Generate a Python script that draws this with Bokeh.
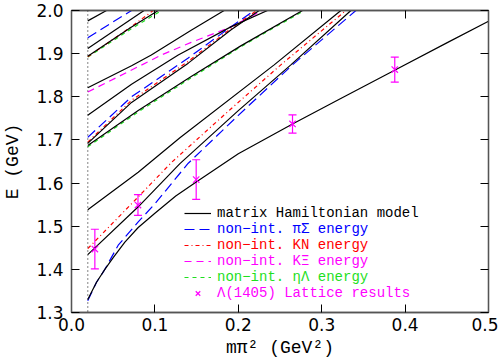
from bokeh.plotting import figure
from bokeh.models import (Span, Whisker, TeeHead, ColumnDataSource, Legend, LegendItem,
                          LinearAxis, FixedTicker, NumeralTickFormatter, Range1d)
from bokeh.embed import file_html
from bokeh.resources import INLINE

# ---------------- data ----------------
phys_point = 0.0195

x_ticks = [0.0, 0.1, 0.2, 0.3, 0.4, 0.5]
y_ticks = [1.3, 1.4, 1.5, 1.6, 1.7, 1.8, 1.9, 2.0]

# matrix Hamiltonian model eigen-energies (black)
h1_x = [0.0195, 0.03, 0.04, 0.05, 0.064, 0.08, 0.10, 0.125, 0.15, 0.20, 0.265, 0.32, 0.388, 0.45, 0.50]
h1_E = [1.330, 1.370, 1.400, 1.427, 1.463, 1.497, 1.530, 1.570, 1.603, 1.668, 1.737, 1.793, 1.862, 1.925, 1.975]
h2_x = [0.0195, 0.08, 0.13, 0.20, 0.263, 0.335]
h2_E = [1.434, 1.545, 1.645, 1.768, 1.874, 2.0]
h3_x = [0.0195, 0.08, 0.13, 0.243, 0.323]
h3_E = [1.538, 1.625, 1.705, 1.874, 2.0]
h4_x = [0.0195, 0.08, 0.1435, 0.203, 0.277]
h4_E = [1.687, 1.768, 1.847, 1.918, 2.0]
h5_x = [0.0195, 0.072, 0.14, 0.191, 0.225]
h5_E = [1.692, 1.787, 1.878, 1.955, 2.0]
h6_x = [0.0195, 0.072, 0.128, 0.191, 0.235]
h6_E = [1.757, 1.829, 1.897, 1.962, 2.0]
h7_x = [0.0195, 0.072, 0.0957, 0.1435, 0.183]
h7_E = [1.821, 1.872, 1.897, 1.954, 2.0]
h8_x = [0.0195, 0.072, 0.104]
h8_E = [1.894, 1.962, 2.0]
h9_x = [0.0195, 0.087]
h9_E = [1.912, 2.0]
h10_x = [0.0195, 0.042]
h10_E = [1.976, 2.0]

# non-interacting pi Sigma energies (blue)
ps0_x = [0.0195, 0.03, 0.04, 0.056, 0.08, 0.10, 0.14, 0.20, 0.265, 0.341]
ps0_E = [1.327, 1.370, 1.400, 1.456, 1.510, 1.552, 1.646, 1.757, 1.874, 2.0]
ps1_x = [0.0195, 0.072, 0.14, 0.191, 0.219]
ps1_E = [1.706, 1.800, 1.890, 1.962, 2.0]
ps2_x = [0.0195, 0.072]
ps2_E = [1.937, 2.0]

# non-interacting KN energies (red)
kn0_x = [0.0195, 0.07, 0.12, 0.19, 0.251, 0.329]
kn0_E = [1.448, 1.548, 1.648, 1.770, 1.874, 2.0]
kn1_x = [0.0195, 0.072, 0.14, 0.191, 0.222]
kn1_E = [1.695, 1.792, 1.882, 1.958, 2.0]
kn2_x = [0.0195, 0.036, 0.072, 0.098]
kn2_E = [1.893, 1.915, 1.963, 2.0]

# non-interacting K Xi energy (magenta)
kx0_x = [0.0195, 0.108, 0.1435, 0.191, 0.229]
kx0_E = [1.811, 1.897, 1.926, 1.962, 2.0]

# non-interacting eta Lambda energies (green)
el0_x = [0.0195, 0.08, 0.1435, 0.203, 0.279]
el0_E = [1.684, 1.765, 1.844, 1.916, 2.0]
el1_x = [0.0195, 0.072, 0.108]
el1_E = [1.892, 1.958, 2.0]

# Lambda(1405) lattice results
lat_x = [0.028, 0.0797, 0.1495, 0.265, 0.3876]
lat_E = [1.447, 1.549, 1.608, 1.737, 1.863]
lat_err = [0.046, 0.024, 0.046, 0.021, 0.029]

legend_texts = ["matrix Hamiltonian model", "non\u2212int. \u03c0\u03a3 energy", "non\u2212int. KN energy",
                "non\u2212int. K\u039e energy", "non\u2212int. \u03b7\u039b energy", "\u039b(1405) Lattice results"]
x_title = "m\u03c0\u00b2 (GeV\u00b2)"
y_title = "E (GeV)"

# ---------------- styles ----------------
BLACK = "black"
BLUE = "#0000ff"
RED = "#ff0000"
MAG = "#ff00ff"
GREEN = "#1ee01e"
AXC = "#555555"

p = figure(width=498, height=362, x_range=Range1d(0, 0.5), y_range=Range1d(1.3, 2.0),
           output_backend="svg", toolbar_location=None,
           min_border_left=70, min_border_right=10, min_border_top=10, min_border_bottom=50,
           x_axis_location=None, y_axis_location=None)
p.xgrid.grid_line_color = None
p.ygrid.grid_line_color = None
p.outline_line_color = AXC
p.outline_line_width = 1.3
p.background_fill_color = "white"
p.border_fill_color = "white"

def style_axis(ax, ticks, show_labels):
    ax.ticker = FixedTicker(ticks=ticks)
    ax.formatter = NumeralTickFormatter(format="0.0")
    ax.major_tick_in = 8
    ax.major_tick_out = 0
    ax.minor_tick_line_color = None
    ax.major_tick_line_color = "black"
    ax.major_tick_line_width = 1
    ax.axis_line_color = AXC
    ax.axis_line_width = 1.3
    if show_labels:
        ax.major_label_text_font = "DejaVu Sans"
        ax.major_label_text_font_size = "17px"
        ax.major_label_text_color = "black"
        ax.axis_label_text_font = "Liberation Mono"
        ax.axis_label_text_font_style = "normal"
        ax.axis_label_text_font_size = "18px"
        ax.axis_label_text_color = "black"
    else:
        ax.major_label_overrides = {t: "" for t in ticks}
        ax.major_label_text_font_size = "1px"
        ax.major_label_text_color = None
        ax.major_label_standoff = 0

xb = LinearAxis(); style_axis(xb, x_ticks, True)
xb.major_label_standoff = 5
xb.axis_label = x_title
xb.axis_label_standoff = 4
yl = LinearAxis(); style_axis(yl, y_ticks, True)
yl.major_label_standoff = 8
yl.axis_label = y_title
yl.axis_label_standoff = 10
xt = LinearAxis(); style_axis(xt, x_ticks, False)
yr = LinearAxis(); style_axis(yr, y_ticks, False)
p.add_layout(xb, "below")
p.add_layout(yl, "left")
p.add_layout(xt, "above")
p.add_layout(yr, "right")

p.add_layout(Span(location=phys_point, dimension="height", line_color="#333333",
                  line_dash="1 3", line_width=1.2))

LW = 1.2
def curve(xs, ys, color, dash="solid"):
    return p.line(xs, ys, line_color=color, line_width=LW, line_dash=dash)

GREEN_DASH = "4 4"
MAG_DASH = "7 5"
BLUE_DASH = "10 5"
RED_DASH = "4 3 1 3"

r_green = curve(el0_x, el0_E, GREEN, GREEN_DASH)
curve(el1_x, el1_E, GREEN, GREEN_DASH)
r_mag = curve(kx0_x, kx0_E, MAG, MAG_DASH)
r_red = curve(kn0_x, kn0_E, RED, RED_DASH)
curve(kn1_x, kn1_E, RED, RED_DASH)
curve(kn2_x, kn2_E, RED, RED_DASH)
r_blue = curve(ps0_x, ps0_E, BLUE, BLUE_DASH)
curve(ps1_x, ps1_E, BLUE, BLUE_DASH)
curve(ps2_x, ps2_E, BLUE, BLUE_DASH)

r_black = curve(h1_x, h1_E, BLACK)
for hx, hE in [(h2_x, h2_E), (h3_x, h3_E), (h4_x, h4_E), (h5_x, h5_E), (h6_x, h6_E),
               (h7_x, h7_E), (h8_x, h8_E), (h9_x, h9_E), (h10_x, h10_E)]:
    curve(hx, hE, BLACK)

src = ColumnDataSource(dict(x=lat_x, y=lat_E,
                            lo=[e - d for e, d in zip(lat_E, lat_err)],
                            hi=[e + d for e, d in zip(lat_E, lat_err)]))
p.add_layout(Whisker(source=src, base="x", lower="lo", upper="hi", dimension="height",
                     line_color=MAG, line_width=1.2,
                     lower_head=TeeHead(size=8, line_color=MAG, line_width=1.2),
                     upper_head=TeeHead(size=8, line_color=MAG, line_width=1.2)))
r_lat = p.scatter("x", "y", source=src, marker="x", size=9, line_color=MAG, line_width=1.2)

# legend: one single-item legend per row (each with its own text colour)
leg_rows = [(r_black, BLACK), (r_blue, BLUE), (r_red, RED), (r_mag, MAG), (r_green, GREEN), (r_lat, MAG)]
leg_y = [91, 75, 59, 43, 27, 11]
for (rend, col), txt, ly in zip(leg_rows, legend_texts, leg_y):
    lg = Legend(items=[LegendItem(label=txt, renderers=[rend])], location=(113, ly),
                label_text_font="Liberation Mono", label_text_font_size="14px",
                label_text_color=col, glyph_width=27, glyph_height=16, label_height=16,
                label_standoff=6, padding=0, margin=0, spacing=0,
                border_line_color=None, background_fill_alpha=0)
    p.add_layout(lg)

open("out.html", "w").write(file_html(p, INLINE))
